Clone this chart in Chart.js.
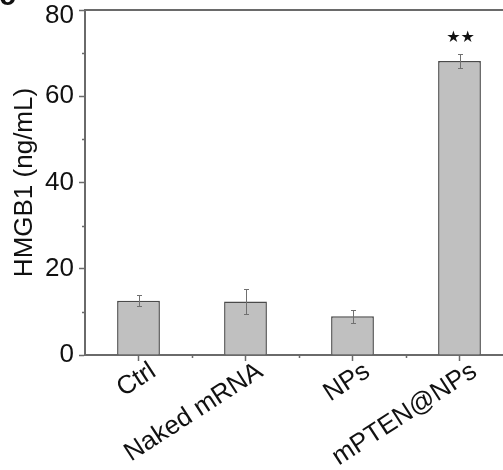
<!DOCTYPE html>
<html>
<head>
<meta charset="utf-8">
<script src="https://cdn.jsdelivr.net/npm/chart.js@4"></script>
<style>
  html, body { margin: 0; padding: 0; background: #fff; overflow: hidden; }
  #wrap { position: relative; width: 503px; height: 470px; overflow: hidden; }
  #myChart { position: absolute; left: 0; top: 0; }
  #panel { position: absolute; left: -1px; top: -20px; font: bold 30px "Liberation Sans", Arial, sans-serif; line-height: 30px; color: #111; }
</style>
</head>
<body>
<div id="wrap">
  <canvas id="myChart" width="516" height="470"></canvas>
  <div id="panel">c</div>
</div>
<script>
// HMGB1 release per treatment group (mean, error)
const groups = ['Ctrl', 'Naked mRNA', 'NPs', 'mPTEN@NPs'];
const hmgb1 = [12.6, 12.4, 9.0, 68.2];
const hmgb1Err = [1.3, 2.9, 1.5, 1.7];
const significance = ['', '', '', '★★'];
const yTicks = [0, 20, 40, 60, 80];
const yMinorTicks = [10, 30, 50, 70];

const axisColor = '#6a6a6a';
const fontFamily = '"Liberation Sans", Arial, sans-serif';

// error bars, significance marks, top frame line and minor ticks
const extras = {
    id: 'extras',
    afterDatasetsDraw(chart) {
        const ctx = chart.ctx;
        const x = chart.scales.x;
        const y = chart.scales.y;
        const area = chart.chartArea;
        ctx.save();

        ctx.strokeStyle = '#707070';
        ctx.lineWidth = 1;
        hmgb1.forEach((v, i) => {
            const px = Math.round(x.getPixelForValue(i)) + 0.5;
            const hi = Math.round(y.getPixelForValue(v + hmgb1Err[i])) + 0.5;
            const lo = Math.round(y.getPixelForValue(v - hmgb1Err[i])) + 0.5;
            ctx.beginPath();
            ctx.moveTo(px, hi); ctx.lineTo(px, lo);
            ctx.moveTo(px - 2.5, hi); ctx.lineTo(px + 2.5, hi);
            ctx.moveTo(px - 2.5, lo); ctx.lineTo(px + 2.5, lo);
            ctx.stroke();
            if (significance[i]) {
                ctx.fillStyle = '#111';
                ctx.font = '16px "DejaVu Sans"';
                ctx.textAlign = 'center';
                ctx.textBaseline = 'middle';
                ctx.fillText(significance[i], px, hi - 17);
            }
        });

        ctx.strokeStyle = axisColor;
        ctx.lineWidth = 2;
        ctx.beginPath();
        ctx.moveTo(area.left, area.top);
        ctx.lineTo(area.right, area.top);
        ctx.stroke();

        ctx.lineWidth = 1.5;
        ctx.beginPath();
        yMinorTicks.forEach(v => {
            const py = Math.round(y.getPixelForValue(v)) + 0.5;
            ctx.moveTo(area.left - 3, py);
            ctx.lineTo(area.left, py);
        });
        for (let i = 0; i < groups.length - 1; i++) {
            const px = Math.round(x.getPixelForValue(i + 0.5)) + 0.5;
            ctx.moveTo(px, area.bottom);
            ctx.lineTo(px, area.bottom + 3);
        }
        ctx.stroke();
        ctx.restore();
    }
};

const ctx = document.getElementById('myChart').getContext('2d');
new Chart(ctx, {
    type: 'bar',
    data: {
        labels: groups,
        datasets: [{
            data: hmgb1,
            backgroundColor: '#c0c0c0',
            borderColor: '#4a4a4a',
            borderWidth: 1.5,
            categoryPercentage: 1,
            barPercentage: 0.4
        }]
    },
    options: {
        responsive: false,
        animation: false,
        layout: { padding: { top: 10, right: 3, left: 0, bottom: 0 } },
        plugins: {
            legend: { display: false },
            tooltip: { enabled: false }
        },
        scales: {
            x: {
                offset: true,
                grid: {
                    offset: false,
                    drawOnChartArea: false,
                    drawTicks: true,
                    tickLength: 6,
                    tickWidth: 1.5,
                    tickColor: axisColor
                },
                border: { display: true, color: axisColor, width: 2 },
                ticks: {
                    color: '#111',
                    font: { family: fontFamily, size: 26 },
                    minRotation: 33,
                    maxRotation: 33,
                    padding: -5,
                    labelOffset: 15
                },
                afterFit: s => { s.height = 115; s.paddingLeft = 0; s.paddingRight = 0; }
            },
            y: {
                min: 0,
                max: 80,
                afterBuildTicks: s => { s.ticks = yTicks.map(v => ({ value: v })); },
                grid: {
                    drawOnChartArea: false,
                    drawTicks: true,
                    tickLength: 6,
                    tickWidth: 1.5,
                    tickColor: axisColor
                },
                border: { display: true, color: axisColor, width: 2 },
                ticks: {
                    color: '#111',
                    padding: 5,
                    // the top label sits a little below its tick, clear of the edge
                    callback: v => v === 80 ? ['', String(v)] : String(v),
                    font: c => ({
                        family: fontFamily,
                        size: 26,
                        lineHeight: c.tick && c.tick.value === 80 ? 0.42 : 1.2
                    })
                },
                title: {
                    display: true,
                    text: 'HMGB1 (ng/mL)',
                    color: '#111',
                    font: { family: fontFamily, size: 26 },
                    padding: { top: 9, bottom: 0 }
                },
                afterFit: s => { s.width = 85; s.paddingTop = 0; s.paddingBottom = 0; }
            }
        }
    },
    plugins: [extras]
});
</script>
</body>
</html>
